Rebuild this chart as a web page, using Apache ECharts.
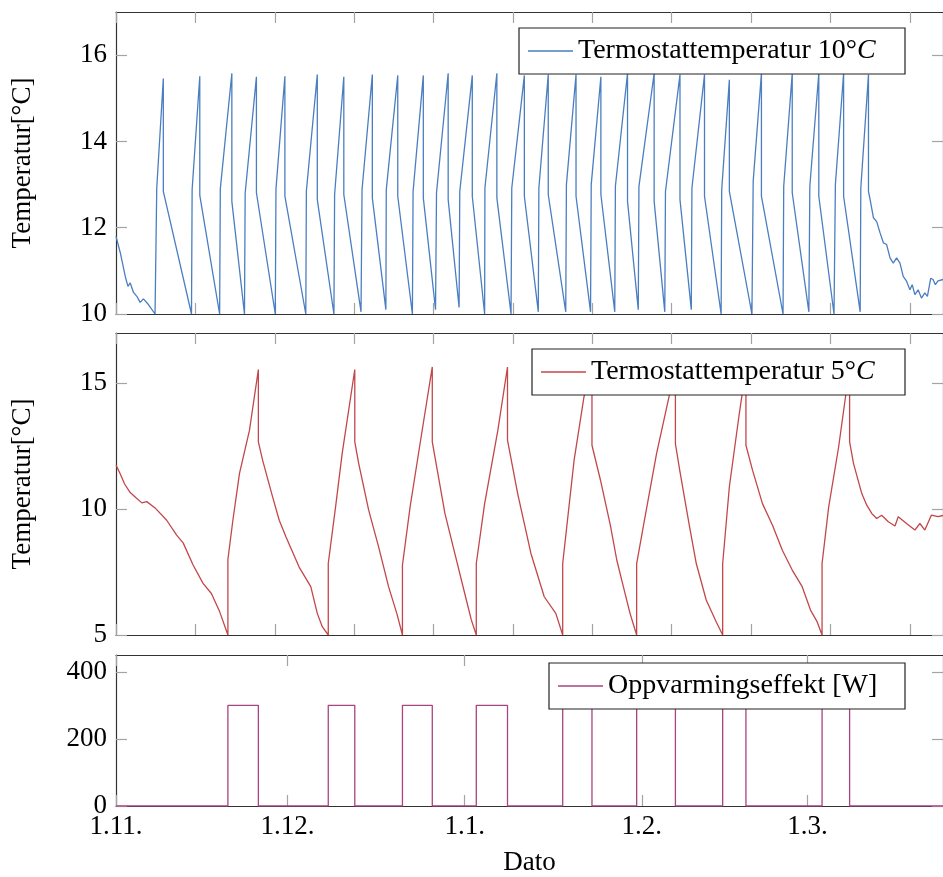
<!DOCTYPE html>
<html>
<head>
<meta charset="utf-8">
<script src="https://cdn.jsdelivr.net/npm/echarts@6/dist/echarts.min.js"></script>
<style>
  html, body { margin: 0; padding: 0; background: #fff; }
  #chart { width: 943px; height: 877px; }
</style>
</head>
<body>
<div id="chart"></div>
<script>
// Time is counted in days from 1 November.
const monthDays = [0, 30, 61, 92, 121];
const monthLabels = ['1.11.', '1.12.', '1.1.', '1.2.', '1.3.'];
// The two temperature panels are ticked every 20000 minutes.
const sampleTickMinutes = [0, 20000, 40000, 60000, 80000, 100000, 120000, 140000, 160000, 180000, 200000];

// --- Thermostat set to 10 °C ---
const t10Lead = [[0, 11.8], [0.75, 11.42], [1.62, 10.87], [2.09, 10.64], [2.49, 10.72], [3.06, 10.5],
  [3.65, 10.41], [4.22, 10.27], [4.80, 10.35], [5.67, 10.22], [6.83, 10.0]];
const t10On = [7.13, 13.32, 18.25, 22.60, 27.99, 33.31, 38.25, 43.05, 47.29, 51.98, 56.08, 60.15, 64.55, 69.25,
  73.99, 78.81, 83.15, 87.38, 91.50, 96.14, 100.77, 105.98, 111.49, 116.83, 121.40, 125.87, 130.32];
const t10Start = [12.92, 12.88, 12.90, 12.80, 12.90, 12.85, 12.77, 12.88, 12.88, 12.84, 12.81, 12.84, 12.92, 12.92,
  12.92, 13.00, 13.00, 12.96, 12.96, 12.84, 12.92, 12.88, 13.08, 12.96, 12.96, 13.00, 12.92];
const t10PeakDay = [8.28, 14.66, 20.27, 24.57, 29.55, 35.22, 39.86, 44.85, 49.30, 53.77, 58.12, 62.34, 66.64, 71.45,
  75.63, 80.49, 84.84, 89.50, 94.16, 98.68, 102.97, 107.32, 112.93, 118.32, 122.97, 127.31, 131.66];
const t10Peak = [15.46, 15.51, 15.58, 15.50, 15.51, 15.55, 15.50, 15.55, 15.53, 15.53, 15.58, 15.53, 15.58, 15.53,
  15.55, 15.55, 15.50, 15.58, 15.58, 15.55, 15.55, 15.43, 15.58, 15.58, 15.58, 15.58, 15.55];
const t10After = [12.84, 12.75, 12.61, 12.81, 12.73, 12.65, 12.77, 12.69, 12.73, 12.69, 12.65, 12.73, 12.69, 12.73,
  12.77, 12.73, 12.77, 12.61, 12.61, 12.65, 12.73, 12.84, 12.73, 12.81, 12.73, 12.73, 12.84];
const t10LowDay = [13.21, 18.13, 22.48, 27.87, 33.21, 38.13, 42.87, 47.22, 51.86, 55.91, 60.03, 64.50, 69.12, 73.89,
  78.69, 83.03, 87.27, 91.38, 96.02, 100.66, 105.88, 111.27, 116.71, 121.23, 125.63, 130.21];
const t10Low = [10.0, 10.0, 10.0, 10.0, 10.0, 10.0, 10.05, 10.10, 10.0, 10.10, 10.15, 10.0, 10.0, 10.05,
  10.05, 10.05, 10.05, 10.10, 10.05, 10.10, 10.0, 10.0, 10.0, 10.05, 10.0, 10.05];
const t10Tail = [[131.95, 12.65], [132.53, 12.23], [132.82, 12.26], [133.10, 12.14], [133.69, 11.88], [133.97, 11.92],
  [134.27, 11.65], [134.84, 11.61], [135.43, 11.3], [136.00, 11.18], [136.58, 11.3], [137.17, 11.18], [137.74, 10.87],
  [138.32, 10.76], [138.91, 10.56], [139.31, 10.68], [139.78, 10.45], [140.35, 10.56], [140.93, 10.37], [141.52, 10.49],
  [141.97, 10.41], [142.56, 10.83], [142.96, 10.8], [143.36, 10.68], [143.83, 10.77], [144.7, 10.8]];

// --- Thermostat set to 5 °C ---
const t5Series = [
  [0, 11.75], [0.75, 11.4], [1.5, 11.0], [2.49, 10.66], [2.78, 10.72], [3.5, 10.45], [4.52, 10.25], [5.39, 10.3],
  [6.83, 10.05], [8.87, 9.56], [10.61, 8.97], [11.75, 8.66], [13.49, 7.78], [15.23, 7.05], [16.69, 6.65], [18.13, 5.93],
  [19.58, 5.0], [19.58, 8.0], [20.45, 9.56], [21.61, 11.42], [23.35, 13.13], [24.91, 15.55],
  [24.91, 12.67], [25.66, 11.94], [27.40, 10.49], [28.56, 9.56], [29.73, 8.9], [32.04, 7.7], [34.08, 6.92], [35.22, 5.86],
  [36.09, 5.33], [37.14, 5.0], [37.14, 7.84], [38.42, 10.09], [39.57, 12.21], [41.78, 15.55],
  [41.78, 12.67], [42.47, 11.81], [44.21, 9.96], [45.95, 8.5], [47.69, 6.92], [49.13, 5.86], [50.12, 5.0],
  [50.12, 7.78], [51.46, 10.09], [53.20, 12.6], [55.34, 15.65],
  [55.34, 12.67], [57.55, 9.83], [59.28, 8.24], [61.02, 6.65], [62.17, 5.6], [63.04, 5.0],
  [63.04, 7.84], [64.50, 10.22], [66.81, 13.13], [68.50, 15.65],
  [68.50, 12.74], [70.28, 10.62], [72.60, 8.24], [74.93, 6.52], [76.95, 5.86], [78.16, 5.0],
  [78.16, 7.84], [80.15, 11.94], [81.88, 14.46], [83.28, 15.6],
  [83.28, 12.54], [84.77, 11.15], [86.51, 9.35], [87.62, 7.98], [88.77, 6.92], [89.94, 5.86], [90.92, 5.13], [91.10, 5.0],
  [91.10, 7.84], [92.25, 9.3], [94.58, 12.21], [96.89, 14.6], [97.88, 15.6],
  [97.88, 12.6], [98.63, 11.55], [100.36, 9.3], [101.53, 7.84], [103.27, 6.39], [105.01, 5.53], [106.15, 5.0],
  [106.15, 7.84], [107.32, 10.89], [109.06, 13.8], [110.22, 15.6],
  [110.22, 12.54], [111.37, 11.55], [113.11, 10.22], [114.85, 9.37], [116.59, 8.37], [118.32, 7.58], [120.06, 6.92],
  [121.52, 5.99], [122.67, 5.53], [123.54, 5.0],
  [123.54, 7.84], [124.70, 10.09], [126.44, 12.47], [128.36, 15.65],
  [128.36, 12.67], [129.05, 11.81], [130.49, 10.62], [131.36, 10.16], [132.23, 9.83], [133.10, 9.63], [133.97, 9.76],
  [135.13, 9.5], [136.30, 9.33], [136.87, 9.7], [138.32, 9.43], [139.78, 9.17], [140.65, 9.43], [141.52, 9.17],
  [142.66, 9.76], [143.83, 9.7], [144.7, 9.75]
];

// --- Heater power for the 5 °C run ---
const heatOn = [19.58, 37.14, 50.12, 63.04, 78.16, 91.10, 106.15, 123.54];
const heatOff = [24.91, 41.78, 55.34, 68.50, 83.28, 97.88, 110.22, 128.36];
const heatPower = 300;

const names = ['Termostattemperatur 10°C', 'Termostattemperatur 5°C', 'Oppvarmingseffekt [W]'];
const colors = ['#4a7ec0', '#c2474a', '#a8447f'];

// Assemble the 10 °C curve from its heating cycles
const t10Series = t10Lead.slice();
for (let i = 0; i < t10On.length; i++) {
  const prev = t10Series[t10Series.length - 1][1];
  t10Series.push([t10On[i], prev], [t10On[i], t10Start[i]], [t10PeakDay[i], t10Peak[i]], [t10PeakDay[i], t10After[i]]);
  if (i < t10LowDay.length) t10Series.push([t10LowDay[i], t10Low[i]]);
}
t10Series.push(...t10Tail);

// Heater power as a square wave
const X_MAX = 144.7;
const powerSeries = [[0, 0]];
for (let i = 0; i < heatOn.length; i++) {
  powerSeries.push([heatOn[i], 0], [heatOn[i], heatPower], [heatOff[i], heatPower], [heatOff[i], 0]);
}
powerSeries.push([X_MAX, 0]);

const FONT = "'Liberation Serif', 'Times New Roman', serif";
const sampleTicks = sampleTickMinutes.map(m => m / 1440);

const axisLineStyle = { color: '#333', width: 1.2 };
const tickStyle = { color: '#a3a3a3', width: 1.2 };
const labelStyle = { fontFamily: FONT, fontSize: 27, color: '#000' };

function xPair(gi, ticks, withLabels) {
  const base = {
    type: 'value', gridIndex: gi, min: 0, max: X_MAX,
    axisLine: { show: true, onZero: false, lineStyle: axisLineStyle },
    axisTick: { show: true, inside: true, length: 11, customValues: ticks, lineStyle: tickStyle },
    splitLine: { show: false }
  };
  const bottom = Object.assign({}, base, { position: 'bottom',
    axisLabel: withLabels ? Object.assign({ show: true, margin: 7, customValues: monthDays,
      formatter: v => monthLabels[monthDays.indexOf(v)] }, labelStyle) : { show: false }
  });
  if (withLabels) {
    Object.assign(bottom, { name: 'Dato', nameLocation: 'middle', nameGap: 43,
      nameTextStyle: { fontFamily: FONT, fontSize: 27, color: '#000' } });
  }
  const top = Object.assign({}, base, { position: 'top', axisLabel: { show: false } });
  return [bottom, top];
}

function yPair(gi, min, max, ticks, name) {
  const base = {
    type: 'value', gridIndex: gi, min: min, max: max,
    axisLine: { show: true, onZero: false, lineStyle: axisLineStyle },
    axisTick: { show: true, inside: true, length: 11, customValues: ticks, lineStyle: tickStyle },
    splitLine: { show: false }
  };
  const left = Object.assign({}, base, { position: 'left',
    axisLabel: Object.assign({ show: true, margin: 9, customValues: ticks }, labelStyle) });
  if (name) {
    Object.assign(left, { name: name, nameLocation: 'middle', nameGap: 80,
      nameTextStyle: { fontFamily: FONT, fontSize: 27, color: '#000' } });
  }
  const right = Object.assign({}, base, { position: 'right', axisLabel: { show: false } });
  return [left, right];
}

function legendFor(name, top, textWidth) {
  return {
    data: [name], right: 38, top: top, orient: 'horizontal',
    icon: 'rect', itemWidth: 45, itemHeight: 1.5,
    backgroundColor: '#fff', borderColor: '#222', borderWidth: 1.2, borderRadius: 0,
    padding: [9, 17, 9, 9],
    selectedMode: false,
    formatter: n => n.replace(/°C$/, '°{i|C}'),
    textStyle: {
      fontFamily: FONT, fontSize: 28, lineHeight: 27, color: '#000', width: textWidth,
      rich: { i: { fontFamily: FONT, fontSize: 28, fontStyle: 'italic', color: '#000' } }
    }
  };
}

const option = {
  animation: false,
  backgroundColor: '#fff',
  grid: [
    { left: 116, right: -5, top: 12, height: 302 },
    { left: 116, right: -5, top: 333, height: 302 },
    { left: 116, right: -5, top: 655, height: 151 }
  ],
  xAxis: [
    ...xPair(0, sampleTicks, false),
    ...xPair(1, sampleTicks, false),
    ...xPair(2, monthDays, true)
  ],
  yAxis: [
    ...yPair(0, 10, 17, [10, 12, 14, 16], 'Temperatur[°C]'),
    ...yPair(1, 5, 17, [5, 10, 15], 'Temperatur[°C]'),
    ...yPair(2, 0, 450, [0, 200, 400], null)
  ],
  legend: [
    legendFor(names[0], 28, 310),
    legendFor(names[1], 349, 297),
    legendFor(names[2], 663, 280)
  ],
  series: [
    { name: names[0], type: 'line', xAxisIndex: 0, yAxisIndex: 0, data: t10Series, color: colors[0],
      showSymbol: false, symbol: 'none', lineStyle: { width: 1.3 }, clip: true },
    { name: names[1], type: 'line', xAxisIndex: 2, yAxisIndex: 2, data: t5Series, color: colors[1],
      showSymbol: false, symbol: 'none', lineStyle: { width: 1.3 }, clip: true },
    { name: names[2], type: 'line', xAxisIndex: 4, yAxisIndex: 4, data: powerSeries, color: colors[2],
      showSymbol: false, symbol: 'none', lineStyle: { width: 1.3 }, clip: true }
  ]
};

const chart = echarts.init(document.getElementById('chart'), null, { renderer: 'canvas' });
chart.setOption(option);
</script>
</body>
</html>
